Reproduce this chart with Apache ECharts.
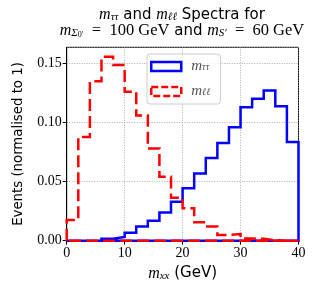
<!DOCTYPE html>
<html>
<head>
<meta charset="utf-8">
<script src="https://cdn.jsdelivr.net/npm/echarts@6/dist/echarts.min.js"></script>
<style>html,body{margin:0;padding:0;background:#fff}#c{width:320px;height:295px}</style>
</head>
<body>
<div id="c"></div>
<script>
// Bin edges (GeV)
const binEdges = [0,2,4,6,8,10,12,14,16,18,20,22,24,26,28,30,32,34,36,38,40];
// m_tautau spectrum (normalised)
const mtautau = [0, 0, 0, 0.0017, 0.0032, 0.0067, 0.0120, 0.0168, 0.0238, 0.0330, 0.0443, 0.0569, 0.0700, 0.0826, 0.0960, 0.1129, 0.1200, 0.1269, 0.1137, 0.0834];
// m_ll spectrum (normalised)
const mll = [0.0176, 0.0877, 0.1347, 0.1555, 0.1485, 0.1260, 0.1059, 0.0779, 0.0540, 0.0364, 0.0275, 0.0155, 0.0120, 0.0048, 0.0056, 0.0018, 0.0016, 0.0004, 0, 0];
const xTicks = [0, 10, 20, 30, 40];
const yTicks = [0.00, 0.05, 0.10, 0.15];

function stepPath(edges, vals) {
  const pts = [[edges[0], 0]];
  for (let i = 0; i < vals.length; i++) {
    pts.push([edges[i], vals[i]]);
    pts.push([edges[i + 1], vals[i]]);
  }
  pts.push([edges[edges.length - 1], 0]);
  pts.push([edges[0], 0]);
  return pts;
}

const SERIF = '"Liberation Serif", "DejaVu Serif", serif';
const SANS = '"DejaVu Sans", sans-serif';
const mathRich = {
  m: { fontFamily: SERIF, fontStyle: 'italic', fontWeight: 'normal', fontSize: 16, lineHeight: 16, color: '#000' },
  s: { fontFamily: SERIF, fontStyle: 'italic', fontWeight: 'normal', fontSize: 11, lineHeight: 10, verticalAlign: 'bottom', color: '#000' },
  ss: { fontFamily: SERIF, fontWeight: 'normal', fontSize: 8, lineHeight: 15, verticalAlign: 'bottom', color: '#000' },
  r: { fontFamily: SERIF, fontWeight: 'normal', fontSize: 16.5, lineHeight: 16, color: '#000' },
  t: { fontFamily: SANS, fontWeight: 'normal', fontSize: 15, lineHeight: 16, color: '#000' }
};

const chart = echarts.init(document.getElementById('c'), null, { renderer: 'canvas' });
const option = {
  animation: false,
  backgroundColor: '#fff',
  title: {
    left: 182, top: 7, textAlign: 'center', padding: 0, itemGap: 0,
    text: '{m|m}{s|ττ}{t| and }{m|m}{s|ℓℓ}{t| Spectra for}\n{m|m}{s|Σ}{ss|0′}{r|\u2002=\u2002100 GeV}{t| and }{m|m}{s|S′}{r|\u2002=\u200260 GeV}',
    textStyle: { rich: mathRich, lineHeight: 16, fontWeight: 'normal' }
  },
  legend: {
    left: 147, top: 54, orient: 'vertical',
    padding: [5, 10, 5, 3], itemGap: 10, itemWidth: 30, itemHeight: 9,
    backgroundColor: 'rgba(255,255,255,0.8)', borderColor: '#cccccc', borderWidth: 1, borderRadius: 3,
    formatter: function (name) { return name === 'mtt' ? '{m|m}{s|ττ}' : '{m|m}{s|ℓℓ}'; },
    textStyle: {
      width: 32, padding: [0, 0, 0, 5],
      rich: {
        m: { fontFamily: SERIF, fontStyle: 'italic', fontWeight: 'normal', fontSize: 15, lineHeight: 12 },
        s: { fontFamily: SERIF, fontStyle: 'italic', fontWeight: 'normal', fontSize: 10, lineHeight: 9, verticalAlign: 'bottom' }
      }
    },
    data: [
      { name: 'mtt', icon: 'rect', itemStyle: { color: 'transparent', borderColor: '#0000ff', borderWidth: 2.5 } },
      { name: 'mll', icon: 'rect', itemStyle: { color: 'transparent', borderColor: '#ff0000', borderWidth: 2.5, borderType: [7, 3] } }
    ]
  },
  grid: { left: 66.7, right: 21.5, top: 47.3, bottom: 54.3, show: true, borderColor: '#000', borderWidth: 1, backgroundColor: 'transparent' },
  xAxis: {
    type: 'value', min: xTicks[0], max: xTicks[xTicks.length - 1], interval: 10,
    name: '{m|m}{s|xx}{t| (GeV)}', nameLocation: 'middle', nameGap: 24,
    nameTextStyle: { rich: mathRich },
    axisLine: { show: true, onZero: false, lineStyle: { color: '#000', width: 1 } },
    axisTick: { show: true, inside: false, length: 4, lineStyle: { color: '#000', width: 1 } },
    axisLabel: { fontFamily: SERIF, fontSize: 14, color: '#000', margin: 6, formatter: v => String(v) },
    splitLine: { show: true, lineStyle: { color: '#999', type: [1, 1.5], width: 0.8 } }
  },
  yAxis: {
    type: 'value', min: 0, max: 0.1635, interval: 0.05,
    name: 'Events (normalised to 1)', nameLocation: 'middle', nameGap: 42,
    nameTextStyle: { fontFamily: SANS, fontSize: 13.3, color: '#000' },
    axisLine: { show: true, onZero: false, lineStyle: { color: '#000', width: 1 } },
    axisTick: { show: true, inside: false, length: 4, lineStyle: { color: '#000', width: 1 } },
    axisLabel: { fontFamily: SERIF, fontSize: 14, color: '#000', margin: 5, showMaxLabel: false,
      formatter: v => (yTicks.some(t => Math.abs(t - v) < 1e-9) ? v.toFixed(2) : '') },
    splitLine: { show: true, lineStyle: { color: '#999', type: [1, 1.5], width: 0.8 } }
  },
  series: [
    { name: 'mtt', type: 'line', data: stepPath(binEdges, mtautau), showSymbol: false, symbol: 'none',
      lineStyle: { color: '#0000ff', width: 2.5, join: 'miter' }, itemStyle: { color: '#0000ff' }, z: 3 },
    { name: 'mll', type: 'line', data: stepPath(binEdges, mll), showSymbol: false, symbol: 'none',
      lineStyle: { color: '#ff0000', width: 2.5, type: [12, 5], join: 'miter' }, itemStyle: { color: '#ff0000' }, z: 4 }
  ]
};
chart.setOption(option);
</script>
</body>
</html>
